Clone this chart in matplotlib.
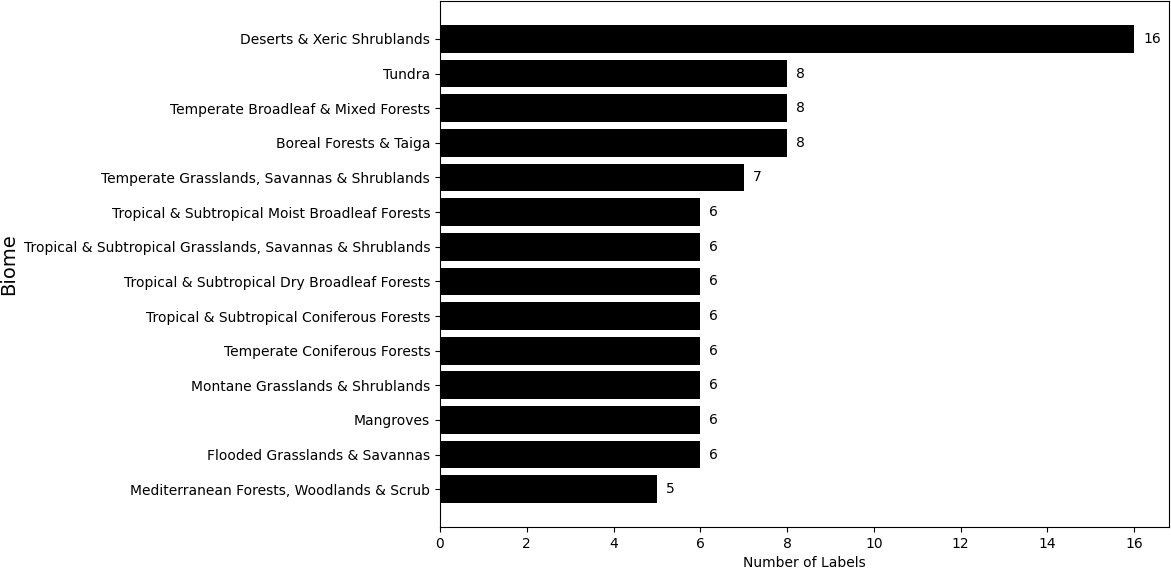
import matplotlib
matplotlib.use("Agg")
import matplotlib.pyplot as plt

biomes = [
    "Deserts & Xeric Shrublands",
    "Tundra",
    "Temperate Broadleaf & Mixed Forests",
    "Boreal Forests & Taiga",
    "Temperate Grasslands, Savannas & Shrublands",
    "Tropical & Subtropical Moist Broadleaf Forests",
    "Tropical & Subtropical Grasslands, Savannas & Shrublands",
    "Tropical & Subtropical Dry Broadleaf Forests",
    "Tropical & Subtropical Coniferous Forests",
    "Temperate Coniferous Forests",
    "Montane Grasslands & Shrublands",
    "Mangroves",
    "Flooded Grasslands & Savannas",
    "Mediterranean Forests, Woodlands & Scrub",
]
counts = [16, 8, 8, 8, 7, 6, 6, 6, 6, 6, 6, 6, 6, 5]

fig = plt.figure(figsize=(11.71, 5.68), dpi=100)
ax = fig.add_axes([0.3757, 0.0722, 0.6226, 0.9258])

# reverse so the largest bar sits on top
ax.barh(biomes[::-1], counts[::-1], color="black")
for i, v in enumerate(counts[::-1]):
    ax.text(v + 0.2, i, str(v), va="center", ha="left", fontsize=10)

ax.set_xlabel("Number of Labels", fontsize=10)
ax.set_ylabel("Biome", fontsize=14)

fig.savefig("out.png", dpi=100)
